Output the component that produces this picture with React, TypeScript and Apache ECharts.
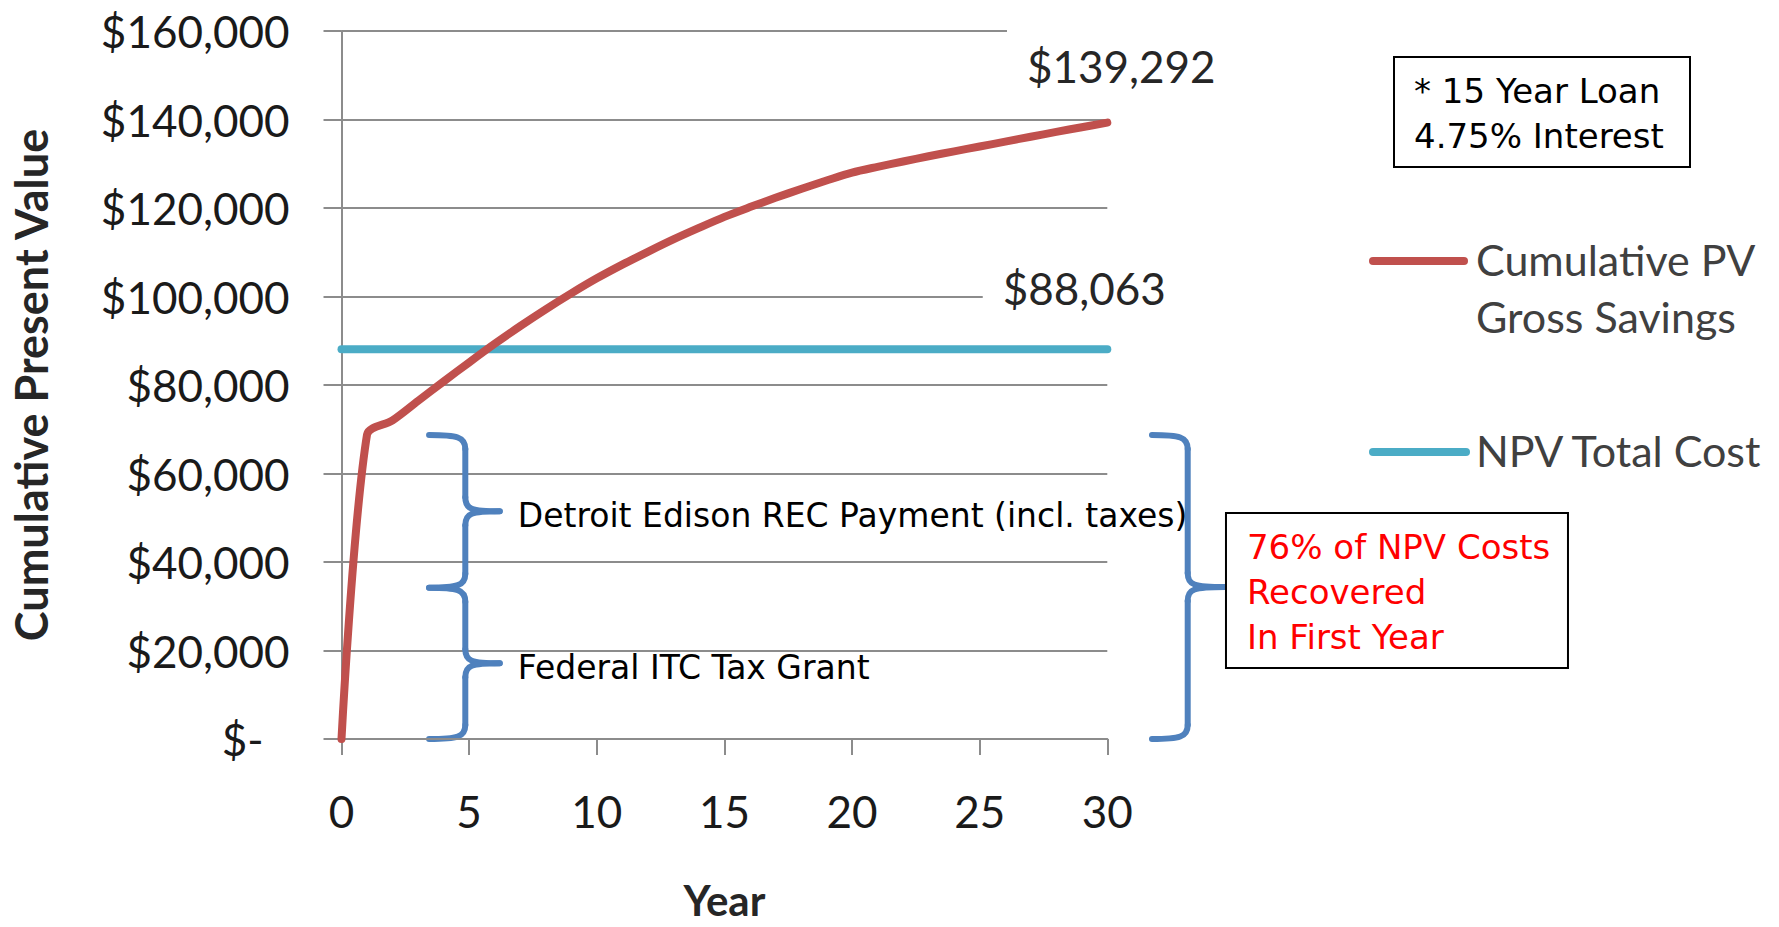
import React, { useEffect, useRef } from "react";
import * as echarts from "echarts";

// ---- data ----
const years = [0, 1, 2, 3, 4, 5, 6, 7, 8, 9, 10, 11, 12, 13, 14, 15, 16, 17, 18, 19, 20, 21, 22, 23, 24, 25, 26, 27, 28, 29, 30];
const cumulativePvGrossSavings = [
  0, 68800, 72000, 76400, 80800, 85100, 89300, 93300, 97100, 100700, 104100,
  107200, 110100, 112900, 115500, 118000, 120200, 122300, 124300, 126200, 128000,
  129300, 130500, 131700, 132800, 133900, 135000, 136100, 137200, 138250, 139292,
];
const npvYears = [0, 30];
const npvTotalCost = [88063, 88063];
const seriesNames = ["Cumulative PV\nGross Savings", "NPV Total Cost"];
const endLabels = ["$139,292", "$88,063"];
// annotation brace spans (values)
const itcGrant = 34200;
const recPayment = 34500;
const noteLines = ["* 15 Year Loan", "4.75% Interest"];
const recoveredLines = ["76% of NPV Costs", "Recovered", "In First Year"];
const braceTexts = ["Detroit Edison REC Payment (incl. taxes)", "Federal ITC Tax Grant"];

const RED = "#C0504D";
const BLUE = "#4BACC6";
const BRACE = "#4F81BD";
const GRID = "#8C8C8C";
const TXT = "#1a1a1a";

function fmtMoney(v: number) {
  if (v === 0) return "{z|$-}";
  return "$" + v.toLocaleString("en-US");
}

function brace(xe: number, xs: number, xt: number, yt: number, yb: number, ym: number) {
  const r = 14;
  const st = {
    stroke: BRACE,
    lineWidth: 6,
    fill: null,
    lineCap: "round",
  };
  return [
    { type: "bezierCurve", shape: { x1: xe, y1: yt, cpx1: xs - 8, cpy1: yt, cpx2: xs, cpy2: yt + 2, x2: xs, y2: yt + r }, style: st },
    { type: "line", shape: { x1: xs, y1: yt + r, x2: xs, y2: ym - r }, style: st },
    { type: "bezierCurve", shape: { x1: xs, y1: ym - r, cpx1: xs, cpy1: ym - 2, cpx2: xs + 6, cpy2: ym, x2: xt, y2: ym }, style: st },
    { type: "bezierCurve", shape: { x1: xt, y1: ym, cpx1: xs + 6, cpy1: ym, cpx2: xs, cpy2: ym + 2, x2: xs, y2: ym + r }, style: st },
    { type: "line", shape: { x1: xs, y1: ym + r, x2: xs, y2: yb - r }, style: st },
    { type: "bezierCurve", shape: { x1: xs, y1: yb - r, cpx1: xs, cpy1: yb - 2, cpx2: xs - 8, cpy2: yb, x2: xe, y2: yb }, style: st },
  ];
}

export default function App() {
  const ref = useRef<HTMLDivElement>(null);
  useEffect(() => {
    const chart = echarts.init(ref.current as HTMLDivElement, null, { renderer: "svg" });
    const labelCommon = {
      show: true,
      position: "inside",
      fontFamily: "Lato",
      fontSize: 44,
      color: "#262626",
      backgroundColor: "#ffffff",
      padding: [14, 20],
    };
    const savingsData = years.map((y, i) => {
      const item: any = { value: [y, cumulativePvGrossSavings[i]] };
      if (i === years.length - 1) {
        item.label = { ...labelCommon, formatter: endLabels[0], offset: [14, -57] };
      }
      return item;
    });
    const npvData = npvYears.map((y, i) => {
      const item: any = { value: [y, npvTotalCost[i]] };
      if (i === npvYears.length - 1) {
        item.label = { ...labelCommon, formatter: endLabels[1], offset: [-23, -61] };
      }
      return item;
    });
    chart.setOption({
      animation: false,
      backgroundColor: "#ffffff",
      grid: {
        left: 341.5,
        top: 31,
        right: 671.7,
        bottom: 188,
        containLabel: false,
        outerBoundsMode: "none",
      },
      xAxis: {
        type: "value",
        min: 0,
        max: 30,
        interval: 5,
        name: "Year",
        nameLocation: "middle",
        nameGap: 143,
        nameTextStyle: { fontFamily: "Lato", fontWeight: "bold", fontSize: 42, lineHeight: 36, color: "#262626" },
        axisLine: { show: true, lineStyle: { color: GRID, width: 2 } },
        axisTick: { show: true, length: 16, lineStyle: { color: GRID, width: 2 } },
        axisLabel: { margin: 50, fontFamily: "Lato", fontSize: 44, color: TXT },
        splitLine: { show: false },
      },
      yAxis: {
        type: "value",
        min: 0,
        max: 160000,
        interval: 20000,
        name: "Cumulative Present Value",
        nameLocation: "middle",
        nameGap: 288,
        nameRotate: 90,
        nameTextStyle: { fontFamily: "Lato", fontWeight: "bold", fontSize: 45, color: "#262626" },
        axisLine: { show: true, lineStyle: { color: GRID, width: 2 } },
        axisTick: { show: true, length: 18, lineStyle: { color: GRID, width: 2 } },
        axisLabel: {
          margin: 52,
          fontFamily: "Lato",
          fontSize: 44,
          color: TXT,
          formatter: fmtMoney,
          rich: { z: { fontFamily: "Lato", fontSize: 44, color: TXT, padding: [0, 26, 0, 0] } },
        },
        splitLine: { show: true, lineStyle: { color: GRID, width: 2 } },
      },
      series: [
        {
          name: seriesNames[1],
          type: "line",
          data: npvData,
          symbol: "circle",
          symbolSize: 0,
          showSymbol: true,
          lineStyle: { color: BLUE, width: 8, cap: "round" },
          itemStyle: { color: BLUE },
          z: 3,
        },
        {
          name: seriesNames[0],
          type: "line",
          data: savingsData,
          smooth: 0.3,
          symbol: "circle",
          symbolSize: 0,
          showSymbol: true,
          lineStyle: { color: RED, width: 8, cap: "round", join: "round" },
          itemStyle: { color: RED },
          z: 4,
        },
      ],
    });

    const px = (x: number, y: number) => chart.convertToPixel({ gridIndex: 0 }, [x, y]) as number[];
    const y0 = px(0, 0)[1];
    const yMidV = px(0, itcGrant)[1];
    const yTopV = px(0, itcGrant + recPayment)[1];
    const xe = px(3.43, 0)[0];
    const xs = px(4.85, 0)[0];
    const xt = px(6.2, 0)[0];
    const bxe = px(31.75, 0)[0];
    const bxs = px(33.15, 0)[0];
    const bxt = px(34.61, 0)[0];
    const bym = (yTopV + y0) / 2;

    const annFont = { fontFamily: "DejaVu Sans", fontSize: 33 };
    const graphics: any[] = [
      ...brace(xe, xs, xt, yTopV, yMidV, (yTopV + yMidV) / 2),
      ...brace(xe, xs, xt, yMidV, y0, (yMidV + y0) / 2),
      ...brace(bxe, bxs, bxt, yTopV, y0, bym),
      {
        type: "text",
        x: xt + 18,
        y: (yTopV + yMidV) / 2 + 4,
        style: { text: braceTexts[0], fill: "#000", ...annFont, align: "left", verticalAlign: "middle" },
      },
      {
        type: "text",
        x: xt + 18,
        y: (yMidV + y0) / 2 + 4,
        style: { text: braceTexts[1], fill: "#000", ...annFont, align: "left", verticalAlign: "middle" },
      },
      // recovered box
      {
        type: "rect",
        shape: { x: bxt + 1, y: bym - 74, width: 342, height: 155 },
        style: { fill: "#fff", stroke: "#000", lineWidth: 2 },
      },
      {
        type: "text",
        x: bxt + 22,
        y: bym + 5,
        style: {
          text: recoveredLines.join("\n"),
          fill: "#FF0000",
          fontFamily: "DejaVu Sans",
          fontSize: 34,
          lineHeight: 45,
          align: "left",
          verticalAlign: "middle",
        },
      },
      // note box
      {
        type: "rect",
        shape: { x: 1394, y: 57, width: 296, height: 110 },
        style: { fill: "#fff", stroke: "#000", lineWidth: 2 },
      },
      {
        type: "text",
        x: 1414,
        y: 113,
        style: {
          text: noteLines.join("\n"),
          fill: "#000",
          fontFamily: "DejaVu Sans",
          fontSize: 34,
          lineHeight: 45,
          align: "left",
          verticalAlign: "middle",
        },
      },
      // legend
      {
        type: "line",
        shape: { x1: 1373, y1: 261, x2: 1464, y2: 261 },
        style: { stroke: RED, lineWidth: 8, lineCap: "round" },
      },
      {
        type: "text",
        x: 1476,
        y: 288,
        style: {
          text: seriesNames[0],
          fill: "#404040",
          fontFamily: "Lato",
          fontSize: 43,
          lineHeight: 57,
          align: "left",
          verticalAlign: "middle",
        },
      },
      {
        type: "line",
        shape: { x1: 1373, y1: 452, x2: 1466, y2: 452 },
        style: { stroke: BLUE, lineWidth: 8, lineCap: "round" },
      },
      {
        type: "text",
        x: 1476,
        y: 450,
        style: {
          text: seriesNames[1],
          fill: "#404040",
          fontFamily: "Lato",
          fontSize: 43,
          align: "left",
          verticalAlign: "middle",
        },
      },
    ];
    chart.setOption({ graphic: graphics });
    return () => chart.dispose();
  }, []);
  return <div ref={ref} style={{ position: "absolute", left: 0, top: 0, width: 1779, height: 927 }} />;
}
